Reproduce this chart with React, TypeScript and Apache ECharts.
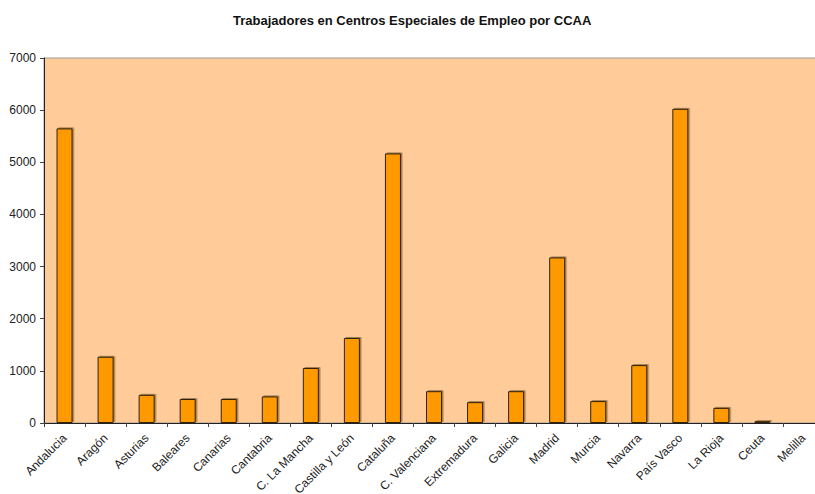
import React, { useEffect, useRef } from "react";
import * as echarts from "echarts";

const categories = [
  "Andalucia", "Aragón", "Asturias", "Baleares", "Canarias", "Cantabria",
  "C. La Mancha", "Castilla y León", "Cataluña", "C. Valenciana", "Extremadura",
  "Galicia", "Madrid", "Murcia", "Navarra", "País Vasco", "La Rioja", "Ceuta", "Melilla",
];
const trabajadores = [
  5650, 1270, 540, 460, 460, 510, 1055, 1630, 5170, 610, 400,
  610, 3175, 420, 1110, 6025, 290, 35, 0,
];
const yTicks = { min: 0, max: 7000, interval: 1000 };
const title = "Trabajadores en Centros Especiales de Empleo por CCAA";

export default function App() {
  const ref = useRef<HTMLDivElement>(null);
  useEffect(() => {
    if (!ref.current) return;
    const chart = echarts.init(ref.current, null, { renderer: "svg" });
    const font = "Liberation Sans, Arial, sans-serif";
    chart.setOption({
      animation: false,
      backgroundColor: "#ffffff",
      title: {
        text: title,
        left: 228,
        top: 9,
        textStyle: { fontFamily: font, fontSize: 13, fontWeight: "bold", color: "#111" },
      },
      grid: {
        left: 44,
        top: 58,
        width: 780,
        height: 365,
        show: true,
        backgroundColor: "#FFCC99",
        borderColor: "#999999",
        borderWidth: 1,
        containLabel: false,
        outerBoundsMode: "none",
      },
      xAxis: {
        type: "category",
        data: categories,
        boundaryGap: true,
        axisLine: { show: true, lineStyle: { color: "#222", width: 1 } },
        axisTick: { show: true, length: 4, lineStyle: { color: "#444" } },
        axisLabel: {
          interval: 0,
          rotate: 45,
          margin: 13,
          fontFamily: font,
          fontSize: 12,
          color: "#222",
        },
        splitLine: { show: false },
      },
      yAxis: {
        type: "value",
        min: yTicks.min,
        max: yTicks.max,
        interval: yTicks.interval,
        axisLine: { show: true, lineStyle: { color: "#222", width: 1 } },
        axisTick: { show: true, length: 4, lineStyle: { color: "#444" } },
        axisLabel: {
          margin: 8,
          fontFamily: font,
          fontSize: 12,
          color: "#222",
          formatter: (v: number) => String(v),
        },
        splitLine: { show: false },
      },
      series: [
        {
          type: "bar",
          data: trabajadores,
          barWidth: 16,
          itemStyle: {
            color: "#FF9900",
            borderColor: "#332211",
            borderWidth: 1,
            shadowColor: "rgba(90,60,20,0.55)",
            shadowOffsetX: 1.5,
            shadowOffsetY: -1,
            shadowBlur: 0,
          },
        },
      ],
    });
    return () => chart.dispose();
  }, []);
  return (
    <div
      ref={ref}
      style={{ position: "fixed", left: 0, top: 0, width: 815, height: 494 }}
    />
  );
}
